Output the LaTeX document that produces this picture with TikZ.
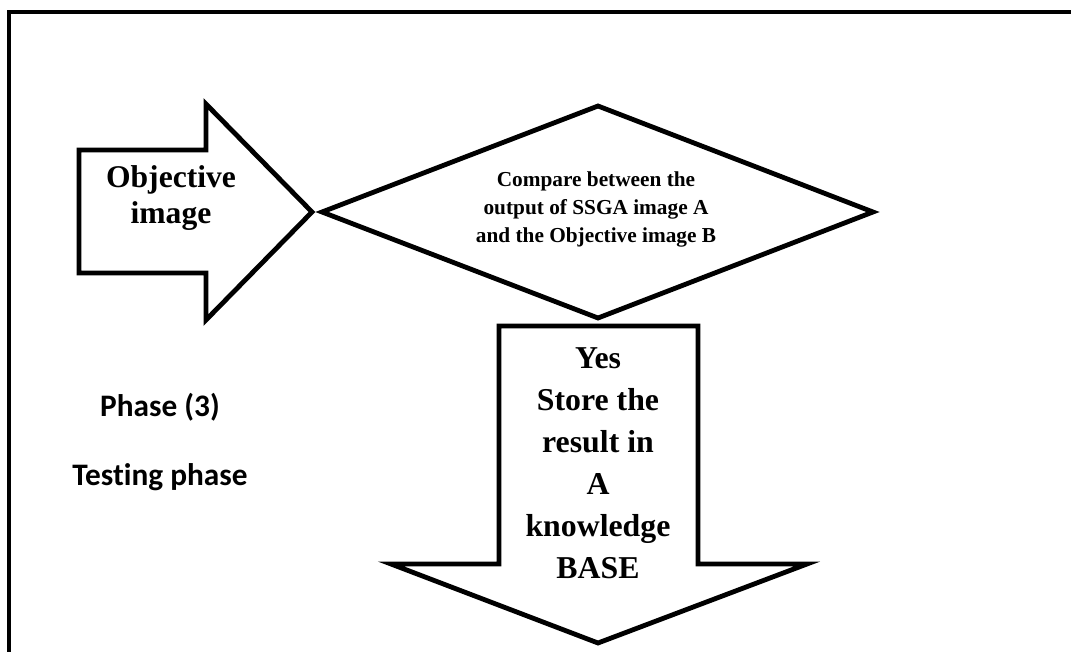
\documentclass[tikz,border=0pt]{standalone}
\usepackage{fontspec}
\setmainfont{Liberation Serif}
\newfontfamily\calibrisub[Ligatures={NoCommon}]{Carlito}
\begin{document}
\begin{tikzpicture}[x=1pt,y=-1pt,
  shapeline/.style={draw=black,line width=4.8pt,line join=miter,fill=white},
  frameline/.style={draw=black,line width=4pt},
  serifbold/.style={font=\bfseries,align=center,inner sep=0pt},
  phasetext/.style={font=\calibrisub\bfseries\fontsize{31.3}{36}\selectfont,inner sep=0pt,anchor=base}]
  \useasboundingbox (0,0) rectangle (1071,652);
  % outer frame (open on the right and bottom)
  \draw[frameline] (9.3,660) -- (9.3,12) -- (1080,12);

  % block arrow pointing right
  \draw[shapeline] (79,150) -- (206,150) -- (206,104) -- (312,212) -- (206,320)
        -- (206,273) -- (79,273) -- cycle;
  \node[serifbold,font=\bfseries\fontsize{31.6}{36}\selectfont] (obj) at (171,198)
        {Objective\\image};

  % decision diamond
  \draw[shapeline] (322,212) -- (598,106) -- (873,212) -- (598,318) -- cycle;
  \node[serifbold,font=\bfseries\fontsize{21.3}{28}\selectfont] (cmp) at (596,209)
        {Compare between the\\output of SSGA image A\\and the Objective image B};

  % block arrow pointing down
  \draw[shapeline] (499,326) -- (698,326) -- (698,564) -- (807,564) -- (598,643)
        -- (391,564) -- (499,564) -- cycle;
  \node[serifbold,font=\bfseries\fontsize{31.8}{42}\selectfont] (store) at (598,463)
        {Yes\\Store the\\result in\\A\\knowledge\\BASE};

  % phase caption
  \node[phasetext] (ph) at (160,416) {Phase (3)};
  \node[phasetext] (tp) at (160,485) {Testing phase};
\end{tikzpicture}
\end{document}
